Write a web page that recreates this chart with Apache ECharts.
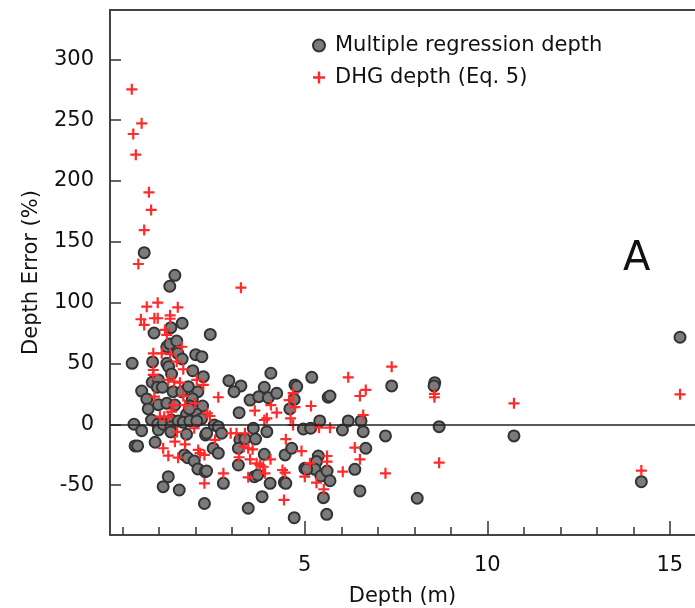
<!DOCTYPE html>
<html><head><meta charset="utf-8">
<script src="https://cdn.jsdelivr.net/npm/echarts@6/dist/echarts.min.js"></script>
<style>html,body{margin:0;padding:0;background:#fff}#c{width:695px;height:608px}</style>
</head><body><div id="c"></div>
<script>
// Multiple regression depth (gray circles)
const mrDepth=[0.60,1.44,1.30,1.64,1.33,0.87,2.41,1.22,1.30,1.49,1.52,1.64,2.01,2.18,0.27,0.83,1.22,1.27,1.35,1.93,2.22,0.82,0.99,0.96,1.10,1.39,1.63,1.81,2.07,1.92,2.20,0.53,0.67,0.71,0.99,1.22,1.44,1.85,1.76,2.04,2.17,0.80,0.32,0.53,0.35,0.42,0.97,0.99,1.12,1.35,1.33,1.53,1.67,1.85,2.04,0.90,1.76,1.70,1.79,1.97,2.07,2.27,2.28,2.49,1.26,1.12,1.56,2.25,2.92,3.25,3.06,4.07,3.89,3.50,3.74,4.00,4.23,4.73,4.78,4.71,4.59,3.20,2.52,2.63,2.31,2.72,3.59,3.22,3.36,3.65,3.96,2.63,3.18,3.18,3.89,4.46,4.64,4.96,2.31,2.77,3.62,3.71,4.05,4.44,4.48,5.00,3.83,3.45,4.71,5.19,5.64,5.69,7.38,5.41,6.19,6.54,5.16,6.03,6.60,7.21,6.67,5.37,5.32,5.28,5.05,5.44,5.61,5.69,6.37,6.51,5.51,5.60,8.56,8.54,8.68,8.08,15.28,10.73,14.22,1.33,1.84];
const mrError=[141.1,122.5,113.5,83.1,79.5,75.1,73.9,63.8,66.1,68.5,58.4,53.7,57.3,55.6,50.2,51.3,50.2,47.4,41.4,44.1,39.2,34.6,36.5,30.5,30.5,26.9,26.9,31.0,26.9,21.1,15.1,27.4,20.9,12.7,16.2,17.3,15.9,15.1,8.3,8.3,4.7,3.6,0.1,-5.2,-17.7,-17.7,0.1,-4.6,0.1,3.6,-1.9,2.8,1.7,2.8,2.8,-14.7,-8.1,-25.1,-27.4,-30.1,-36.6,-38.9,-8.7,-19.6,-43.0,-51.2,-53.9,-65.0,35.9,31.6,26.9,42.0,30.5,20.0,22.8,21.9,25.6,32.4,31.1,20.6,12.7,9.6,-0.5,-1.9,-7.3,-7.3,-3.2,-12.8,-12.0,-12.0,-6.0,-23.7,-19.6,-33.4,-24.6,-25.1,-19.6,-3.8,-38.3,-48.4,-43.0,-41.6,-48.4,-47.6,-48.4,-36.1,-59.4,-68.9,-76.7,38.7,22.3,23.3,31.6,2.8,2.8,2.8,-3.2,-4.6,-6.0,-9.5,-19.6,-26.0,-30.6,-36.9,-36.9,-42.4,-38.3,-46.3,-36.9,-54.7,-60.2,-73.9,34.3,31.6,-1.9,-60.7,71.6,-9.5,-47.1,-6.2,12.7];
// DHG depth (Eq. 5) (red crosses)
const dhgDepth=[0.26,0.53,0.30,0.37,0.73,0.79,0.60,0.44,3.25,0.67,0.97,1.52,0.51,0.60,0.88,0.97,1.31,1.31,1.17,1.22,1.63,0.85,1.08,1.31,1.49,0.85,0.85,1.67,1.26,1.42,1.58,2.04,2.22,0.88,1.40,1.67,1.72,1.99,1.03,1.15,1.26,2.63,4.68,1.97,1.50,1.44,1.12,1.26,1.53,1.72,2.08,2.13,2.25,2.25,1.35,2.33,2.40,2.54,2.97,3.13,3.36,3.33,3.45,3.20,3.50,3.57,3.68,3.77,3.86,3.91,3.45,2.77,4.06,4.39,4.46,4.48,4.43,3.63,3.89,3.96,4.23,4.07,4.61,4.68,4.91,5.00,6.19,7.38,6.51,6.67,5.17,4.73,6.60,5.39,5.69,6.37,6.51,5.61,5.61,5.14,6.04,5.32,5.52,7.21,8.55,8.55,8.68,10.73,15.28,14.22,4.57];
const dhgError=[275.3,247.4,238.6,221.6,190.7,176.2,159.7,131.8,112.3,96.7,100.0,96.2,86.4,81.7,87.2,87.2,89.6,86.8,77.6,73.5,63.8,58.4,58.4,57.8,51.5,44.7,40.6,45.3,36.5,35.1,34.3,36.5,32.4,22.8,15.9,23.3,15.9,17.3,6.3,6.3,6.3,22.3,25.6,-3.2,-6.2,-14.2,-19.6,-25.7,-27.4,-16.4,-21.0,-23.7,-25.1,-48.4,10.4,9.1,6.9,-12.8,-7.3,-7.3,-7.3,-18.3,-19.6,-27.0,-28.7,-20.5,-32.0,-33.4,-34.8,-40.2,-43.5,-40.2,-28.7,-37.5,-39.7,-12.2,-62.1,11.3,3.6,5.0,9.6,15.9,5.0,-0.5,-21.9,-43.0,38.7,47.4,23.3,28.3,15.1,14.1,7.7,-2.7,-2.7,-19.1,-28.7,-26.0,-30.6,-32.0,-38.9,-47.9,-53.3,-40.2,25.0,22.3,-31.5,17.3,24.7,-38.0,20.0];
// Tick labels
const yTicks=[-50,0,50,100,150,200,250,300];
const xMinorTicks=[0,1,2,3,4,5,6,7,8,9,10,11,12,13,14,15];
const xMajorTicks=[5,10,15];
const seriesNames=['Multiple regression depth','DHG depth (Eq. 5)'];

const FONT='DejaVu Sans';
const PLUS='path://M4,0H6V4H10V6H6V10H4V6H0V4H4Z';
const xMin=-0.337,xMax=15.69,yMin=-90.9,yMax=340.5;
const zip=(a,b)=>a.map((v,i)=>[v,b[i]]);
const axisCol='#444';
const chart=echarts.init(document.getElementById('c'),null,{renderer:'canvas'});
chart.setOption({
  animation:false,
  backgroundColor:'#fff',
  grid:{left:110,top:10,right:0,bottom:73,containLabel:false,outerBoundsMode:'none'},
  xAxis:[
    {type:'value',min:xMin,max:xMax,position:'bottom',
     axisLine:{show:true,onZero:false,lineStyle:{color:axisCol,width:2}},
     axisTick:{show:true,inside:true,length:8,customValues:xMinorTicks,lineStyle:{color:'#333',width:1.5}},
     axisLabel:{show:true,customValues:xMajorTicks,margin:20,fontFamily:FONT,fontSize:21,color:'#111'},
     splitLine:{show:false},
     name:'Depth (m)',nameLocation:'middle',nameGap:51,
     nameTextStyle:{fontFamily:FONT,fontSize:21,color:'#111'}},
    {type:'value',min:xMin,max:xMax,position:'bottom',
     axisLine:{show:false,onZero:false},
     axisTick:{show:true,inside:true,length:14,customValues:xMajorTicks,lineStyle:{color:'#333',width:1.5}},
     axisLabel:{show:false},splitLine:{show:false}},
    {type:'value',min:xMin,max:xMax,position:'top',
     axisLine:{show:true,onZero:false,lineStyle:{color:axisCol,width:2}},
     axisTick:{show:false},axisLabel:{show:false},splitLine:{show:false}}
  ],
  yAxis:[
    {type:'value',min:yMin,max:yMax,position:'left',
     axisLine:{show:true,onZero:false,lineStyle:{color:axisCol,width:2}},
     axisTick:{show:true,inside:true,length:11,customValues:yTicks,lineStyle:{color:'#333',width:1.5}},
     axisLabel:{show:true,customValues:yTicks,margin:16,fontFamily:FONT,fontSize:21,color:'#111'},
     splitLine:{show:false},
     name:'Depth Error (%)',nameLocation:'middle',nameRotate:90,nameGap:68,
     nameTextStyle:{fontFamily:FONT,fontSize:21,color:'#111'}}
  ],
  legend:{orient:'vertical',left:307,top:30,itemWidth:12,itemHeight:12,itemGap:11,
    selectedMode:false,data:seriesNames,
    textStyle:{fontFamily:FONT,fontSize:21,color:'#111',padding:[0,0,0,5]}},
  graphic:[{type:'text',left:623,top:240,style:{text:'A',font:'40px "DejaVu Sans"',fill:'#111'}}],
  series:[
    {type:'line',name:'zero',data:[],xAxisIndex:0,yAxisIndex:0,z:1,silent:true,
     markLine:{silent:true,symbol:['none','none'],label:{show:false},
       lineStyle:{color:'#222',width:1.5,type:'solid'},data:[{yAxis:0}]}},
    {type:'scatter',name:seriesNames[0],data:zip(mrDepth,mrError),symbol:'circle',symbolSize:11,
     itemStyle:{color:'#7b7b7b',borderColor:'#333',borderWidth:2,opacity:1},z:3},
    {type:'scatter',name:seriesNames[1],data:zip(dhgDepth,dhgError),symbol:PLUS,symbolSize:11,
     itemStyle:{color:'#ff2a2a',opacity:1},z:4}
  ]
});
</script></body></html>
